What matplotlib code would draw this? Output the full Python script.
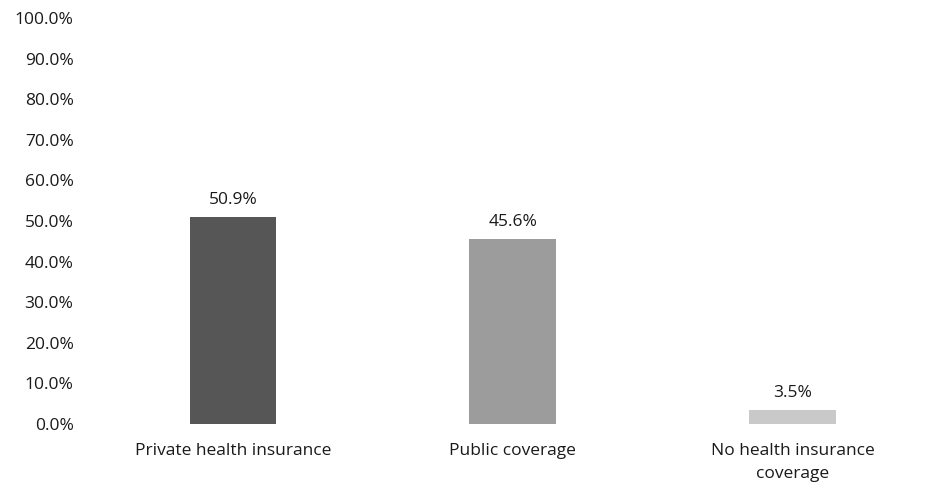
import numpy as np
import matplotlib.pyplot as plt
from matplotlib.ticker import PercentFormatter

plt.rcParams['font.family'] = ['Open Sans', 'DejaVu Sans']
plt.rcParams['font.weight'] = 500

categories = ["Private health insurance", "Public coverage", "No health insurance\ncoverage"]
values = [50.9, 45.6, 3.5]
colors = ["#565656", "#9c9c9c", "#c9c9c9"]
yticks = np.arange(0, 101, 10)

fig = plt.figure(figsize=(9.27, 4.87), dpi=100)
ax = fig.add_axes([93 / 927, 63 / 487, (927 - 93) / 927, 406 / 487])

x = np.arange(len(categories))
ax.bar(x, values, width=0.31, color=colors)
for xi, v in zip(x, values):
    ax.text(xi, v + 2.2, f"{v:.1f}%", ha="center", va="bottom", fontsize=12.5, color="#1a1a1a")

ax.set_xlim(-0.5, 2.48)
ax.set_ylim(0, 100)
ax.set_yticks(yticks)
ax.yaxis.set_major_formatter(PercentFormatter(decimals=1))
ax.set_xticks(x)
ax.set_xticklabels(categories, linespacing=1.55)
ax.tick_params(axis="both", length=0, labelsize=12.5, colors="#1a1a1a")
ax.tick_params(axis="y", pad=14)
ax.tick_params(axis="x", pad=14)
for s in ax.spines.values():
    s.set_visible(False)

fig.savefig("out.png", dpi=100)
